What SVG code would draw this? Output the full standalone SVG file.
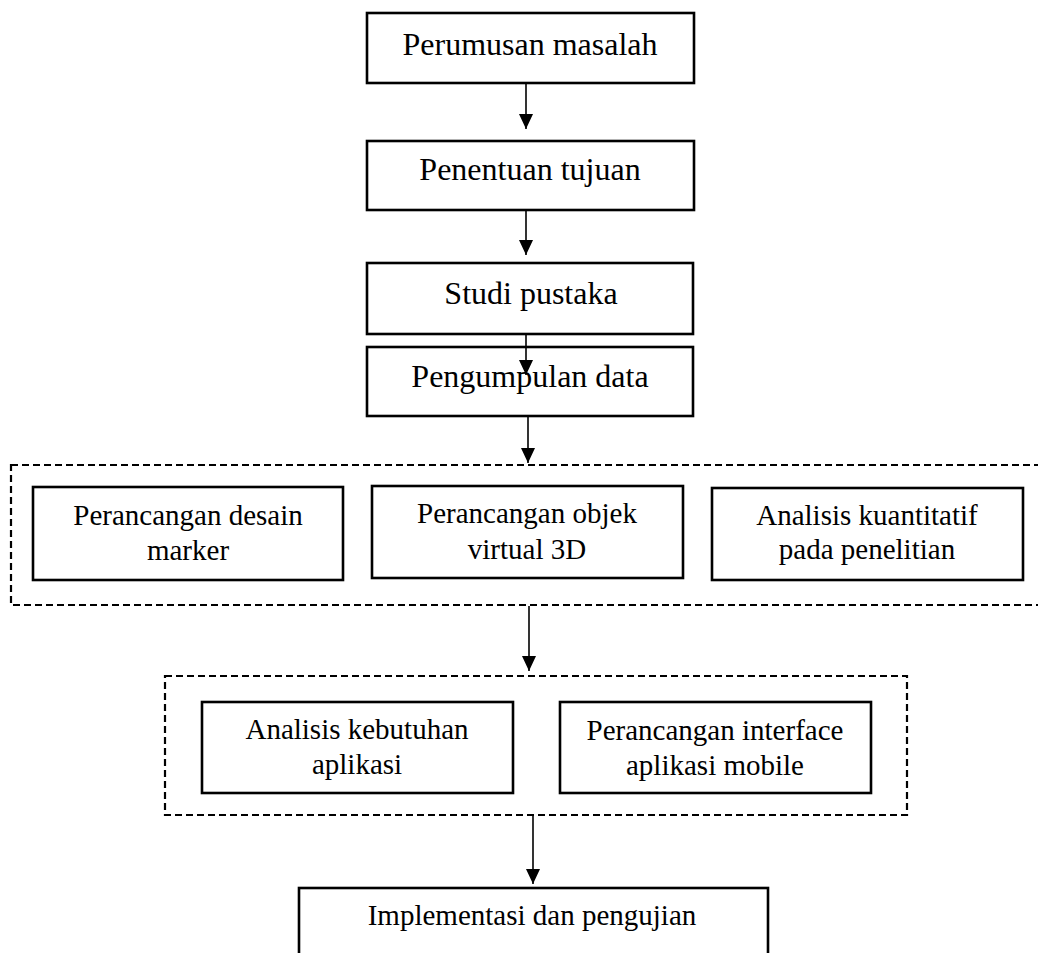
<svg xmlns="http://www.w3.org/2000/svg" width="1038" height="953" viewBox="0 0 1038 953">
  <style>
    .box { fill: #fff; stroke: #000; stroke-width: 2.6; }
    .group { fill: none; stroke: #000; stroke-width: 2.2; stroke-dasharray: 7 4; }
    .lbl { font-family: "Liberation Serif", "Times New Roman", serif; fill: #000; text-anchor: middle; }
    .big { font-size: 32px; }
    .small { font-size: 29px; }
    .edge { stroke: #000; stroke-width: 1.6; fill: none; marker-end: url(#head); }
  </style>
  <defs>
    <marker id="head" markerUnits="userSpaceOnUse" markerWidth="16" markerHeight="16" viewBox="0 0 16 16" refX="15" refY="8" orient="auto">
      <path d="M0,1 L15,8 L0,15 Z" fill="#000"/>
    </marker>
  </defs>
  <rect width="1038" height="953" fill="#fff"/>

  <!-- stage groups (dashed frames) -->
  <g id="group-desain">
    <rect class="group" x="11" y="465" width="1040" height="140"/>
  </g>
  <g id="group-aplikasi">
    <rect class="group" x="165" y="676" width="742" height="139"/>
  </g>

  <g id="n-perumusan">
    <rect class="box" x="367" y="13" width="327" height="70"/>
    <text class="lbl big" x="530" y="55">Perumusan masalah</text>
  </g>
  <g id="n-tujuan">
    <rect class="box" x="367" y="141" width="327" height="69"/>
    <text class="lbl big" x="530" y="180">Penentuan tujuan</text>
  </g>
  <g id="n-studi">
    <rect class="box" x="367" y="263" width="326" height="71"/>
    <text class="lbl big" x="531" y="304">Studi pustaka</text>
  </g>
  <g id="n-pengumpulan">
    <rect class="box" x="367" y="347" width="326" height="69"/>
    <text class="lbl big" x="530" y="387">Pengumpulan data</text>
  </g>

  <g id="n-marker">
    <rect class="box" x="33" y="487" width="310" height="93"/>
    <text class="lbl small" x="188" y="525">Perancangan desain</text>
    <text class="lbl small" x="188" y="560">marker</text>
  </g>
  <g id="n-objek">
    <rect class="box" x="372" y="486" width="311" height="92"/>
    <text class="lbl small" x="527" y="523">Perancangan objek</text>
    <text class="lbl small" x="527" y="559">virtual 3D</text>
  </g>
  <g id="n-analisis-kuantitatif">
    <rect class="box" x="712" y="488" width="311" height="92"/>
    <text class="lbl small" x="867" y="525">Analisis kuantitatif</text>
    <text class="lbl small" x="867" y="559">pada penelitian</text>
  </g>

  <g id="n-kebutuhan">
    <rect class="box" x="202" y="702" width="311" height="91"/>
    <text class="lbl small" x="357" y="739">Analisis kebutuhan</text>
    <text class="lbl small" x="357" y="774">aplikasi</text>
  </g>
  <g id="n-interface">
    <rect class="box" x="560" y="702" width="311" height="91"/>
    <text class="lbl small" x="715" y="740">Perancangan interface</text>
    <text class="lbl small" x="715" y="775">aplikasi mobile</text>
  </g>

  <g id="n-implementasi">
    <rect class="box" x="299" y="888" width="469" height="80"/>
    <text class="lbl small" x="532" y="925">Implementasi dan pengujian</text>
  </g>

  <g id="connectors">
    <line class="edge" x1="526" y1="84" x2="526" y2="129"/>
    <line class="edge" x1="526" y1="211" x2="526" y2="255"/>
    <line class="edge" x1="526" y1="335" x2="526" y2="375"/>
    <line class="edge" x1="528" y1="417" x2="528" y2="463"/>
    <line class="edge" x1="529" y1="606" x2="529" y2="671"/>
    <line class="edge" x1="533" y1="816" x2="533" y2="884"/>
  </g>
</svg>
